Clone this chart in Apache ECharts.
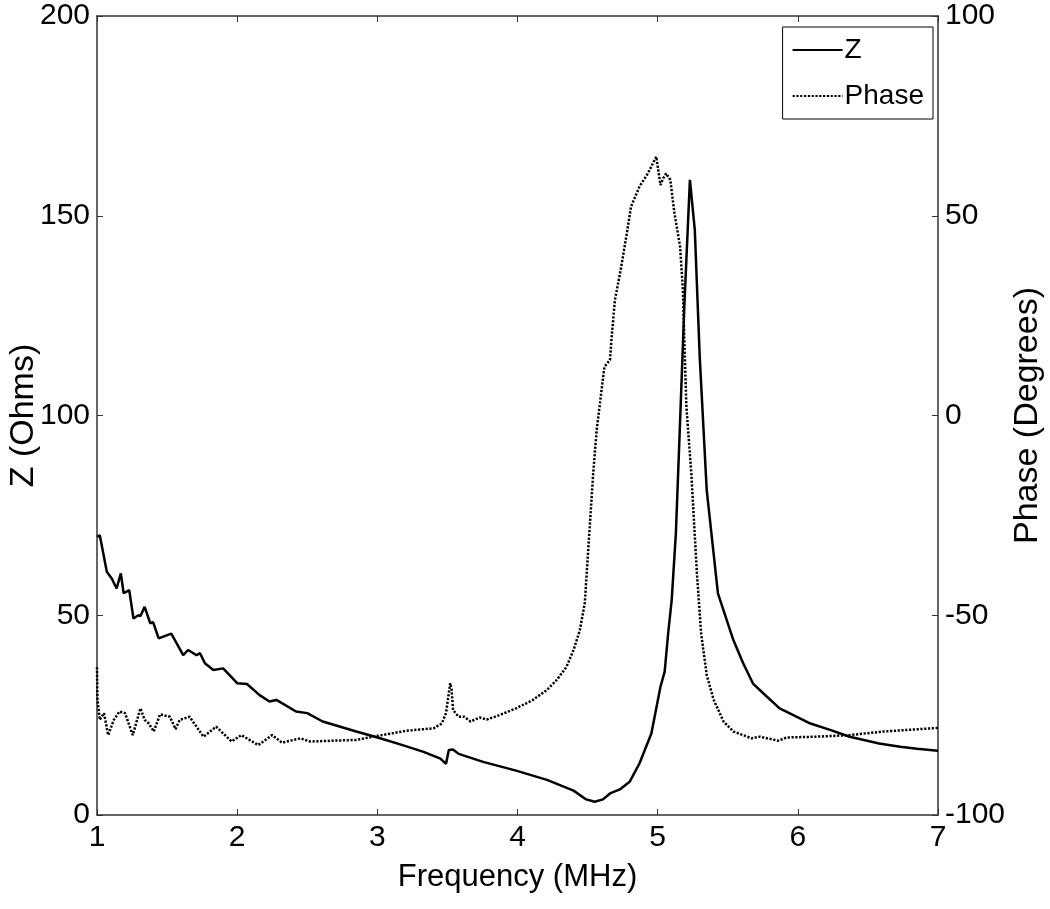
<!DOCTYPE html>
<html>
<head>
<meta charset="utf-8">
<script src="https://cdn.jsdelivr.net/npm/echarts@6/dist/echarts.min.js"></script>
<style>
html,body{margin:0;padding:0;background:#fff;}
#chart{width:1050px;height:909px;}
</style>
</head>
<body>
<div id="chart"></div>
<script>
// Frequency (MHz) and impedance Z (Ohms)
var zFreq = [1.00,1.02,1.07,1.105,1.14,1.17,1.19,1.23,1.26,1.295,1.31,1.34,1.38,1.40,1.44,1.53,1.615,1.65,1.71,1.735,1.77,1.83,1.90,2.00,2.07,2.16,2.23,2.28,2.42,2.50,2.61,2.85,3.02,3.18,3.33,3.45,3.49,3.51,3.54,3.58,3.755,3.99,4.21,4.40,4.49,4.55,4.61,4.66,4.73,4.80,4.87,4.955,5.02,5.05,5.075,5.10,5.13,5.155,5.19,5.23,5.265,5.30,5.35,5.43,5.54,5.61,5.68,5.78,5.87,5.99,6.09,6.23,6.37,6.58,6.73,6.85,7.00];
var zValues = [69.6,70.0,60.9,59.2,56.7,60.5,55.5,56.3,49.2,50.0,49.8,52.1,48.0,48.3,44.2,45.4,40.0,41.3,40.0,40.5,38.0,36.3,36.7,33.0,32.8,30.0,28.4,28.8,25.9,25.5,23.4,20.9,19.2,17.5,15.8,14.1,12.8,16.3,16.4,15.3,13.3,11.1,8.8,6.1,3.9,3.3,3.9,5.4,6.4,8.3,12.9,20.4,32.1,35.9,45.5,53.8,70.5,93.9,127.2,159.0,146.4,114.7,81.3,55.5,43.8,38.0,32.9,29.6,26.7,24.6,22.9,21.3,19.6,17.9,17.1,16.6,16.1];
// Frequency (MHz) and phase (Degrees)
var phaseFreq = [1.00,1.003,1.02,1.05,1.08,1.12,1.16,1.20,1.255,1.31,1.34,1.37,1.405,1.45,1.52,1.56,1.59,1.66,1.76,1.85,1.96,2.03,2.15,2.25,2.32,2.45,2.52,2.85,2.97,3.21,3.40,3.46,3.49,3.52,3.53,3.54,3.58,3.62,3.665,3.73,3.78,3.87,3.99,4.11,4.21,4.28,4.35,4.40,4.445,4.48,4.54,4.565,4.62,4.66,4.67,4.695,4.74,4.78,4.81,4.87,4.93,4.99,5.02,5.04,5.06,5.09,5.12,5.16,5.18,5.19,5.205,5.24,5.28,5.31,5.35,5.40,5.47,5.54,5.67,5.73,5.86,5.92,6.13,6.37,6.61,7.00];
var phaseValues = [-63,-71,-76.2,-74.5,-80,-76.2,-74.1,-74.5,-80,-73.3,-76.2,-77.1,-79.1,-74.8,-75.4,-78.5,-76.2,-75.4,-80.4,-77.9,-81.6,-80,-82.5,-80,-81.9,-80.8,-81.6,-81.2,-80.4,-78.9,-78.3,-77.1,-74.5,-67,-68.7,-73.7,-75.4,-75.4,-76.6,-75.6,-76.1,-75,-73.3,-71.2,-68.7,-66.2,-62.9,-58.7,-53.7,-47,-14.5,-3.6,12.2,13.9,18.9,28.9,37.2,45.6,52.3,57.3,60.6,64.8,57.7,59.4,60.6,59,50.6,42.3,31.4,18.9,2.2,-14.5,-39.5,-54.5,-65,-71.2,-76.6,-79.1,-80.8,-80.4,-81.4,-80.6,-80.4,-80,-79.1,-78.2];
var seriesNames = ['Z', 'Phase'];
var xTitle = 'Frequency (MHz)';
var yLeftTitle = 'Z (Ohms)';
var yRightTitle = 'Phase (Degrees)';

function pairs(xs, ys) { return xs.map(function (x, i) { return [x, ys[i]]; }); }

var FONT = 'Liberation Sans, Arial, sans-serif';
var AX = '#333';
var chart = echarts.init(document.getElementById('chart'), null, { renderer: 'canvas' });
chart.setOption({
  animation: false,
  backgroundColor: '#fff',
  grid: { left: 97, right: 112, top: 16, bottom: 94, containLabel: false, outerBoundsMode: 'none' },
  legend: {
    orient: 'vertical', right: 117, top: 27,
    backgroundColor: '#fff',
    borderColor: '#000', borderWidth: 1, borderRadius: 0,
    padding: [9, 9, 9, 9], itemGap: 18, itemWidth: 50, itemHeight: 14,
    itemStyle: { color: 'rgba(0,0,0,0)', borderWidth: 0, opacity: 0 },
    textStyle: { fontFamily: FONT, fontSize: 28, color: '#000', padding: [0, 0, 0, -3] },
    data: seriesNames
  },
  xAxis: [{
    type: 'value', min: 1, max: 7, interval: 1, position: 'bottom',
    name: xTitle, nameLocation: 'middle', nameGap: 47, nameMoveOverlap: false,
    nameTextStyle: { fontFamily: FONT, fontSize: 31, color: '#000' },
    axisLine: { show: true, onZero: false, lineStyle: { color: AX, width: 1.5 } },
    axisTick: { show: true, inside: true, length: 6, lineStyle: { color: AX } },
    axisLabel: { fontFamily: FONT, fontSize: 30, color: '#000', margin: 8 },
    splitLine: { show: false }
  }, {
    type: 'value', min: 1, max: 7, interval: 1, position: 'top',
    axisLine: { show: true, onZero: false, lineStyle: { color: AX, width: 1.5 } },
    axisTick: { show: true, inside: true, length: 6, lineStyle: { color: AX } },
    axisLabel: { show: false },
    splitLine: { show: false }
  }],
  yAxis: [{
    type: 'value', min: 0, max: 200, interval: 50, position: 'left',
    name: yLeftTitle, nameLocation: 'middle', nameGap: 56, nameRotate: 90, nameMoveOverlap: false,
    nameTextStyle: { fontFamily: FONT, fontSize: 34, color: '#000' },
    axisLine: { show: true, onZero: false, lineStyle: { color: AX, width: 1.5 } },
    axisTick: { show: true, inside: true, length: 6, lineStyle: { color: AX } },
    axisLabel: { fontFamily: FONT, fontSize: 30, color: '#000', margin: 7 },
    splitLine: { show: false }
  }, {
    type: 'value', min: -100, max: 100, interval: 50, position: 'right',
    name: yRightTitle, nameLocation: 'middle', nameGap: 73, nameRotate: 90, nameMoveOverlap: false,
    nameTextStyle: { fontFamily: FONT, fontSize: 34, color: '#000' },
    axisLine: { show: true, onZero: false, lineStyle: { color: AX, width: 1.5 } },
    axisTick: { show: true, inside: true, length: 6, lineStyle: { color: AX } },
    axisLabel: { fontFamily: FONT, fontSize: 30, color: '#000', margin: 7 },
    splitLine: { show: false }
  }],
  series: [{
    name: seriesNames[0], type: 'line', xAxisIndex: 0, yAxisIndex: 0,
    showSymbol: false, symbol: 'none',
    data: pairs(zFreq, zValues),
    lineStyle: { color: '#000', width: 2.5 },
    itemStyle: { color: '#000' }
  }, {
    name: seriesNames[1], type: 'line', xAxisIndex: 0, yAxisIndex: 1,
    showSymbol: false, symbol: 'none',
    data: pairs(phaseFreq, phaseValues),
    lineStyle: { color: '#000', width: 2.5, type: [2.2, 1.6] },
    itemStyle: { color: '#000' }
  }]
});
</script>
</body>
</html>
